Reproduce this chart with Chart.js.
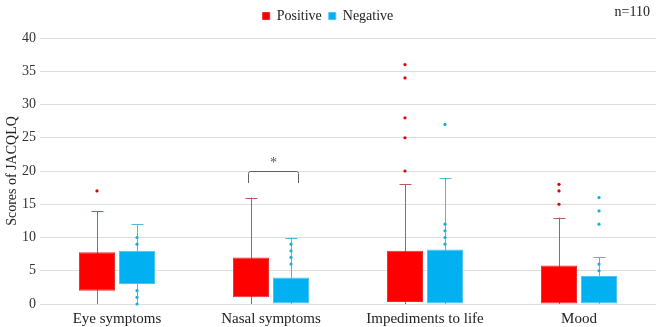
<!DOCTYPE html>
<html>
<head>
<meta charset="utf-8">
<script src="https://cdn.jsdelivr.net/npm/chart.js@4.4.1/dist/chart.umd.min.js"></script>
<style>
  html, body { margin: 0; padding: 0; background: #fff; }
  #wrap { position: relative; width: 660px; height: 327px; }
  #n { position: absolute; right: 10px; top: 4px; font: 14px "Liberation Serif", serif; color: #222; }
</style>
</head>
<body>
<div id="wrap">
  <canvas id="chart" width="660" height="327"></canvas>
  <div id="n">n=110</div>
</div>
<script>
// Categories and box plot statistics
const categories = ['Eye symptoms', 'Nasal symptoms', 'Impediments to life', 'Mood'];

const posQ1 = [2, 1, 0.3, 0];
const posQ3 = [7.8, 7, 8, 5.8];
const posMin = [0, 0, 0, 0];
const posMax = [14, 16, 18, 13];
const posPoints = [[17], [], [20, 25, 28, 34, 36], [15, 17, 18]];

const negQ1 = [3, 0, 0, 0];
const negQ3 = [8, 4, 8.2, 4.2];
const negMin = [0, 0, 0, 0];
const negMax = [12, 10, 19, 7];
const negPoints = [[0, 1, 2, 9, 10], [6, 7, 8, 9], [9, 10, 11, 12, 27], [5, 6, 12, 14, 16]];

// significance bracket (Nasal symptoms)
const sigIndex = 1;
const sigTop = 20;
const sigLeg = 18.2;

const serif = '"Liberation Serif", "Times New Roman", serif';

const boxes = [
  { label: 'Positive', q1: posQ1, q3: posQ3, min: posMin, max: posMax, pts: posPoints,
    fill: '#ff0000', edge: '#e23030', whisker: '#b9595a', dot: '#e00000' },
  { label: 'Negative', q1: negQ1, q3: negQ3, min: negMin, max: negMax, pts: negPoints,
    fill: '#00b0f0', edge: '#4cc4ee', whisker: '#52b8da', dot: '#19aee0' },
];

// whiskers go behind the boxes, dots and the bracket on top
const boxPlotExtras = {
  id: 'boxPlotExtras',
  beforeInit(c) {
    // extra room under the legend
    const fit = c.legend.fit;
    c.legend.fit = function () {
      fit.call(this);
      this.height += 5;
    };
  },
  beforeDatasetsDraw(c) {
    const ctx = c.ctx;
    const y = c.scales.y;
    ctx.save();
    boxes.forEach((b, di) => {
      c.getDatasetMeta(di).data.forEach((bar, i) => {
        const x = Math.round(bar.x) + 0.5;
        ctx.strokeStyle = b.whisker;
        ctx.lineWidth = 1;
        ctx.beginPath();
        ctx.moveTo(x, y.getPixelForValue(b.min[i]));
        ctx.lineTo(x, y.getPixelForValue(b.max[i]));
        const top = Math.round(y.getPixelForValue(b.max[i])) + 0.5;
        ctx.moveTo(x - 6, top);
        ctx.lineTo(x + 6, top);
        ctx.stroke();
      });
    });
    ctx.restore();
  },
  afterDatasetsDraw(c) {
    const ctx = c.ctx;
    const y = c.scales.y;
    ctx.save();
    boxes.forEach((b, di) => {
      c.getDatasetMeta(di).data.forEach((bar, i) => {
        ctx.fillStyle = b.dot;
        b.pts[i].forEach(v => {
          ctx.beginPath();
          ctx.arc(bar.x, y.getPixelForValue(v), 1.6, 0, Math.PI * 2);
          ctx.fill();
        });
      });
    });
    // bracket
    const a = c.getDatasetMeta(0).data[sigIndex];
    const b = c.getDatasetMeta(1).data[sigIndex];
    const x1 = Math.round(a.x - 3) + 0.5;
    const x2 = Math.round(b.x + 7) + 0.5;
    const yt = Math.round(y.getPixelForValue(sigTop)) + 0.5;
    const yl = y.getPixelForValue(sigLeg);
    ctx.strokeStyle = '#606060';
    ctx.lineWidth = 1;
    ctx.beginPath();
    ctx.moveTo(x1, yl);
    ctx.lineTo(x1, yt + 2);
    ctx.quadraticCurveTo(x1, yt, x1 + 2, yt);
    ctx.lineTo(x2 - 2, yt);
    ctx.quadraticCurveTo(x2, yt, x2, yt + 2);
    ctx.lineTo(x2, yl);
    ctx.stroke();
    ctx.fillStyle = '#555';
    ctx.font = '14px ' + serif;
    ctx.textAlign = 'center';
    ctx.textBaseline = 'middle';
    ctx.fillText('*', (x1 + x2) / 2, yt - 8);
    ctx.restore();
  },
};

new Chart(document.getElementById('chart'), {
  type: 'bar',
  data: {
    labels: categories,
    datasets: boxes.map(b => ({
      label: b.label,
      data: b.q1.map((v, i) => [v, b.q3[i]]),
      backgroundColor: b.fill,
      borderColor: b.edge,
      borderWidth: 1,
      borderSkipped: false,
      categoryPercentage: 0.52,
      barPercentage: 0.9,
    })),
  },
  options: {
    responsive: false,
    animation: false,
    layout: { padding: { left: 0, right: 4, top: 2, bottom: 0 } },
    scales: {
      y: {
        min: 0,
        max: 40,
        ticks: {
          stepSize: 5,
          color: '#333',
          font: { family: serif, size: 14 },
          padding: 4,
        },
        grid: { color: '#dedede', drawTicks: false },
        border: { display: false },
        title: {
          display: true,
          text: 'Scores of JACQLQ',
          color: '#222',
          font: { family: serif, size: 14 },
          padding: { top: 4, bottom: 0 },
        },
        afterFit: (s) => { s.width = 40; },
      },
      x: {
        ticks: {
          color: '#222',
          font: { family: serif, size: 15 },
          padding: 6,
        },
        grid: { display: false, drawTicks: false, tickLength: 0 },
        border: { display: false },
        afterFit: (s) => { s.height = 23; },
      },
    },
    plugins: {
      legend: {
        labels: {
          boxWidth: 7,
          boxHeight: 7,
          color: '#222',
          font: { family: serif, size: 14 },
          padding: 7,
        },
      },
      tooltip: { enabled: false },
    },
  },
  plugins: [boxPlotExtras],
});
</script>
</body>
</html>
